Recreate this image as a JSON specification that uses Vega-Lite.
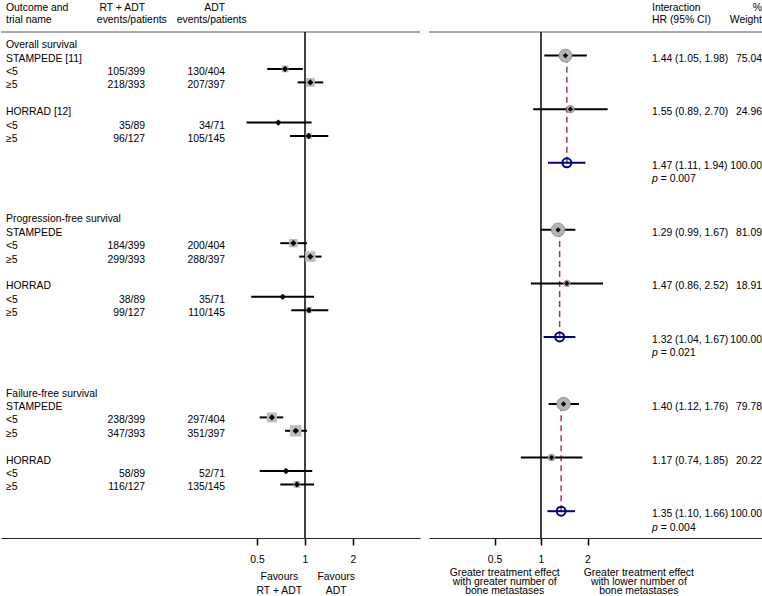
{
  "$schema": "https://vega.github.io/schema/vega-lite/v6.json",
  "padding": 0,
  "autosize": {"type": "pad"},
  "background": "white",
  "config": {
    "view": {"stroke": null},
    "text": {"font": "Liberation Sans", "fontSize": 10.4, "color": "#000"},
    "axis": {"labelFont": "Liberation Sans", "labelFontSize": 10.4, "labelColor": "#000", "grid": false}
  },
  "datasets": {
    "rows": [
      {"row": -2.75, "label": "Outcome and", "rt": "RT + ADT", "adt": "ADT"},
      {"row": 0, "label": "Overall survival"},
      {"row": 1, "label": "STAMPEDE [11]"},
      {"row": 2, "label": "<5", "rt": "105/399", "adt": "130/404", "hr": 0.75, "lo": 0.58, "hi": 0.97, "events": 235},
      {"row": 3, "label": "≥5", "rt": "218/393", "adt": "207/397", "hr": 1.08, "lo": 0.9, "hi": 1.3, "events": 425},
      {"row": 5, "label": "HORRAD [12]"},
      {"row": 6, "label": "<5", "rt": "35/89", "adt": "34/71", "hr": 0.68, "lo": 0.43, "hi": 1.1, "events": 69},
      {"row": 7, "label": "≥5", "rt": "96/127", "adt": "105/145", "hr": 1.055, "lo": 0.805, "hi": 1.4, "events": 201},
      {"row": 13, "label": "Progression-free survival"},
      {"row": 14, "label": "STAMPEDE"},
      {"row": 15, "label": "<5", "rt": "184/399", "adt": "200/404", "hr": 0.845, "lo": 0.7, "hi": 1.03, "events": 384},
      {"row": 16, "label": "≥5", "rt": "299/393", "adt": "288/397", "hr": 1.08, "lo": 0.92, "hi": 1.27, "events": 587},
      {"row": 18, "label": "HORRAD"},
      {"row": 19, "label": "<5", "rt": "38/89", "adt": "35/71", "hr": 0.725, "lo": 0.46, "hi": 1.14, "events": 73},
      {"row": 20, "label": "≥5", "rt": "99/127", "adt": "110/145", "hr": 1.06, "lo": 0.82, "hi": 1.4, "events": 209},
      {"row": 26, "label": "Failure-free survival"},
      {"row": 27, "label": "STAMPEDE"},
      {"row": 28, "label": "<5", "rt": "238/399", "adt": "297/404", "hr": 0.62, "lo": 0.52, "hi": 0.73, "events": 535},
      {"row": 29, "label": "≥5", "rt": "347/393", "adt": "351/397", "hr": 0.875, "lo": 0.75, "hi": 1.03, "events": 698},
      {"row": 31, "label": "HORRAD"},
      {"row": 32, "label": "<5", "rt": "58/89", "adt": "52/71", "hr": 0.76, "lo": 0.52, "hi": 1.11, "events": 110},
      {"row": 33, "label": "≥5", "rt": "116/127", "adt": "135/145", "hr": 0.89, "lo": 0.7, "hi": 1.14, "events": 251}
    ],
    "subheads": [
      {"row": -1.85, "label": "trial name", "rt": "events/patients", "adt": "events/patients"}
    ],
    "inter": [
      {"outcome": "OS", "kind": "study", "row": 1, "hr": 1.44, "lo": 1.05, "hi": 1.98, "weight": 75.04, "est": "1.44 (1.05, 1.98)", "wt": "75.04"},
      {"outcome": "OS", "kind": "study", "row": 5, "hr": 1.55, "lo": 0.89, "hi": 2.7, "weight": 24.96, "est": "1.55 (0.89, 2.70)", "wt": "24.96"},
      {"outcome": "OS", "kind": "pooled", "row": 9, "hr": 1.47, "lo": 1.11, "hi": 1.94, "weight": 100, "est": "1.47 (1.11, 1.94)", "wt": "100.00"},
      {"outcome": "PFS", "kind": "study", "row": 14, "hr": 1.29, "lo": 0.99, "hi": 1.67, "weight": 81.09, "est": "1.29 (0.99, 1.67)", "wt": "81.09"},
      {"outcome": "PFS", "kind": "study", "row": 18, "hr": 1.47, "lo": 0.86, "hi": 2.52, "weight": 18.91, "est": "1.47 (0.86, 2.52)", "wt": "18.91"},
      {"outcome": "PFS", "kind": "pooled", "row": 22, "hr": 1.32, "lo": 1.04, "hi": 1.67, "weight": 100, "est": "1.32 (1.04, 1.67)", "wt": "100.00"},
      {"outcome": "FFS", "kind": "study", "row": 27, "hr": 1.4, "lo": 1.12, "hi": 1.76, "weight": 79.78, "est": "1.40 (1.12, 1.76)", "wt": "79.78"},
      {"outcome": "FFS", "kind": "study", "row": 31, "hr": 1.17, "lo": 0.74, "hi": 1.85, "weight": 20.22, "est": "1.17 (0.74, 1.85)", "wt": "20.22"},
      {"outcome": "FFS", "kind": "pooled", "row": 35, "hr": 1.35, "lo": 1.1, "hi": 1.66, "weight": 100, "est": "1.35 (1.10, 1.66)", "wt": "100.00"}
    ],
    "rheads": [
      {"row": -2.75, "est": "Interaction", "wt": "%"},
      {"row": -1.85, "est": "HR (95% CI)", "wt": "Weight"}
    ],
    "pvals": [
      {"row": 10, "p": "= 0.007"},
      {"row": 23, "p": "= 0.021"},
      {"row": 36, "p": "= 0.004"}
    ]
  },
  "spacing": 7,
  "resolve": {"scale": {"y": "independent", "x": "independent", "size": "independent"}},
  "hconcat": [
    {
      "width": 419,
      "height": 538,
      "resolve": {"scale": {"x": "independent"}, "axis": {"x": "independent"}},
      "layer": [
        {
          "layer": [
            {
              "data": {"values": [{}]},
              "mark": {"type": "rule", "color": "#555", "strokeWidth": 1},
              "encoding": {"y": {"datum": -0.76, "type": "quantitative", "scale": {"domain": [-3.148, 37], "reverse": true, "nice": false, "zero": false}, "axis": null}}
            },
            {
              "data": {"values": [{}]},
              "mark": {"type": "rule", "color": "#000", "strokeWidth": 1.5},
              "encoding": {
                "x": {"datum": 1, "type": "quantitative", "title": null,
                  "scale": {"type": "log", "domain": [0.012402, 5.2628], "nice": false},
                  "axis": {"values": [0.5, 1, 2], "format": "~g", "title": null, "domain": true, "domainColor": "#222", "domainWidth": 1, "ticks": true, "tickSize": 7, "tickWidth": 1.5, "tickColor": "#000", "labelPadding": 9, "labelFlush": false, "labelOverlap": false, "grid": false}},
                "y": {"datum": -0.76, "type": "quantitative", "axis": null},
                "y2": {"datum": 37}
              }
            },
            {
              "data": {"name": "rows"},
              "transform": [{"filter": "isValid(datum.hr)"}],
              "mark": {"type": "rule", "color": "#000", "strokeWidth": 2},
              "encoding": {
                "x": {"field": "lo", "type": "quantitative", "title": null},
                "x2": {"field": "hi"},
                "y": {"field": "row", "type": "quantitative", "axis": null}
              }
            },
            {
              "data": {"name": "rows"},
              "transform": [{"filter": "isValid(datum.hr)"}],
              "mark": {"type": "square", "filled": true, "color": "#bdbdbd", "opacity": 1},
              "encoding": {
                "x": {"field": "hr", "type": "quantitative", "title": null},
                "y": {"field": "row", "type": "quantitative", "axis": null},
                "size": {"field": "events", "type": "quantitative", "scale": {"domain": [0, 700], "range": [0, 130]}, "legend": null}
              }
            },
            {
              "data": {"name": "rows"},
              "transform": [{"filter": "isValid(datum.hr)"}],
              "mark": {"type": "point", "shape": "diamond", "filled": true, "color": "#000", "size": 40, "opacity": 1},
              "encoding": {
                "x": {"field": "hr", "type": "quantitative", "title": null},
                "y": {"field": "row", "type": "quantitative", "axis": null}
              }
            },
            {
              "data": {"values": [{}]},
              "mark": {"type": "text", "align": "center", "baseline": "top", "lineHeight": 14, "dy": 3},
              "encoding": {
                "x": {"datum": 0.69, "type": "quantitative", "title": null},
                "y": {"datum": 39.28, "type": "quantitative", "axis": null},
                "text": {"value": ["Favours", "RT + ADT"]}
              }
            },
            {
              "data": {"values": [{}]},
              "mark": {"type": "text", "align": "center", "baseline": "top", "lineHeight": 14, "dy": 3},
              "encoding": {
                "x": {"datum": 1.57, "type": "quantitative", "title": null},
                "y": {"datum": 39.28, "type": "quantitative", "axis": null},
                "text": {"value": ["Favours", "ADT"]}
              }
            }
          ]
        },
        {
          "layer": [
            {
              "data": {"name": "rows"},
              "mark": {"type": "text", "align": "left", "dy": 3},
              "encoding": {
                "x": {"datum": "label", "type": "nominal", "scale": {"type": "point", "domain": ["label", "rt", "adt"], "range": [5, 224], "padding": 0}, "axis": null},
                "y": {"field": "row", "type": "quantitative", "axis": null},
                "text": {"field": "label"}
              }
            },
            {
              "data": {"name": "rows"},
              "transform": [{"filter": "isValid(datum.rt)"}],
              "mark": {"type": "text", "align": "right", "dx": 29.5, "dy": 3},
              "encoding": {
                "x": {"datum": "rt", "type": "nominal", "axis": null},
                "y": {"field": "row", "type": "quantitative", "axis": null},
                "text": {"field": "rt"}
              }
            },
            {
              "data": {"name": "rows"},
              "transform": [{"filter": "isValid(datum.adt)"}],
              "mark": {"type": "text", "align": "right", "dy": 3},
              "encoding": {
                "x": {"datum": "adt", "type": "nominal", "axis": null},
                "y": {"field": "row", "type": "quantitative", "axis": null},
                "text": {"field": "adt"}
              }
            },
            {
              "data": {"name": "subheads"},
              "mark": {"type": "text", "align": "left", "dy": 3},
              "encoding": {
                "x": {"datum": "label", "type": "nominal", "axis": null},
                "y": {"field": "row", "type": "quantitative", "axis": null},
                "text": {"field": "label"}
              }
            },
            {
              "data": {"name": "subheads"},
              "mark": {"type": "text", "align": "center", "dx": 16.3, "dy": 3},
              "encoding": {
                "x": {"datum": "rt", "type": "nominal", "axis": null},
                "y": {"field": "row", "type": "quantitative", "axis": null},
                "text": {"field": "rt"}
              }
            },
            {
              "data": {"name": "subheads"},
              "mark": {"type": "text", "align": "center", "dx": -13.3, "dy": 3},
              "encoding": {
                "x": {"datum": "adt", "type": "nominal", "axis": null},
                "y": {"field": "row", "type": "quantitative", "axis": null},
                "text": {"field": "adt"}
              }
            }
          ]
        }
      ]
    },
    {
      "width": 336,
      "height": 538,
      "resolve": {"scale": {"x": "independent"}, "axis": {"x": "independent"}},
      "layer": [
        {
          "layer": [
            {
              "data": {"values": [{}]},
              "mark": {"type": "rule", "color": "#555", "strokeWidth": 1},
              "encoding": {"y": {"datum": -0.76, "type": "quantitative", "scale": {"domain": [-3.148, 37], "reverse": true, "nice": false, "zero": false}, "axis": null}}
            },
            {
              "data": {"values": [{}]},
              "mark": {"type": "rule", "color": "#000", "strokeWidth": 1.5},
              "encoding": {
                "x": {"datum": 1, "type": "quantitative", "title": null,
                  "scale": {"type": "log", "domain": [0.18834, 28.19], "nice": false},
                  "axis": {"values": [0.5, 1, 2], "format": "~g", "title": null, "domain": true, "domainColor": "#222", "domainWidth": 1, "ticks": true, "tickSize": 7, "tickWidth": 1.5, "tickColor": "#000", "labelPadding": 9, "labelFlush": false, "labelOverlap": false, "grid": false}},
                "y": {"datum": -0.76, "type": "quantitative", "axis": null},
                "y2": {"datum": 37}
              }
            },
            {
              "data": {"name": "inter"},
              "transform": [
                {"joinaggregate": [{"op": "min", "field": "row", "as": "top"}], "groupby": ["outcome"]},
                {"filter": "datum.kind === 'pooled'"}
              ],
              "mark": {"type": "rule", "color": "#a63a44", "strokeWidth": 1.5, "strokeDash": [6, 4]},
              "encoding": {
                "x": {"field": "hr", "type": "quantitative", "title": null},
                "y": {"field": "row", "type": "quantitative", "axis": null},
                "y2": {"field": "top"}
              }
            },
            {
              "data": {"name": "inter"},
              "transform": [{"filter": "datum.kind === 'study'"}],
              "mark": {"type": "rule", "color": "#000", "strokeWidth": 2},
              "encoding": {
                "x": {"field": "lo", "type": "quantitative", "title": null},
                "x2": {"field": "hi"},
                "y": {"field": "row", "type": "quantitative", "axis": null}
              }
            },
            {
              "data": {"name": "inter"},
              "transform": [{"filter": "datum.kind === 'study'"}],
              "mark": {"type": "point", "shape": "circle", "filled": true, "color": "#b4b4b4", "stroke": "#8a8a8a", "strokeWidth": 0.8, "opacity": 1},
              "encoding": {
                "x": {"field": "hr", "type": "quantitative", "title": null},
                "y": {"field": "row", "type": "quantitative", "axis": null},
                "size": {"field": "weight", "type": "quantitative", "scale": {"domain": [0, 100], "range": [0, 225]}, "legend": null}
              }
            },
            {
              "data": {"name": "inter"},
              "transform": [{"filter": "datum.kind === 'study'"}],
              "mark": {"type": "point", "shape": "diamond", "filled": true, "color": "#000", "size": 28, "opacity": 1},
              "encoding": {
                "x": {"field": "hr", "type": "quantitative", "title": null},
                "y": {"field": "row", "type": "quantitative", "axis": null}
              }
            },
            {
              "data": {"name": "inter"},
              "transform": [{"filter": "datum.kind === 'pooled'"}],
              "mark": {"type": "rule", "color": "#000080", "strokeWidth": 2},
              "encoding": {
                "x": {"field": "lo", "type": "quantitative", "title": null},
                "x2": {"field": "hi"},
                "y": {"field": "row", "type": "quantitative", "axis": null}
              }
            },
            {
              "data": {"name": "inter"},
              "transform": [{"filter": "datum.kind === 'pooled'"}],
              "mark": {"type": "point", "shape": "circle", "filled": false, "color": "#000080", "strokeWidth": 2, "size": 80, "opacity": 1},
              "encoding": {
                "x": {"field": "hr", "type": "quantitative", "title": null},
                "y": {"field": "row", "type": "quantitative", "axis": null}
              }
            },
            {
              "data": {"values": [{}]},
              "mark": {"type": "text", "align": "center", "baseline": "top", "lineHeight": 9.2, "dy": 3},
              "encoding": {
                "x": {"datum": 0.582, "type": "quantitative", "title": null},
                "y": {"datum": 39.0, "type": "quantitative", "axis": null},
                "text": {"value": ["Greater treatment effect", "with greater number of", "bone metastases"]}
              }
            },
            {
              "data": {"values": [{}]},
              "mark": {"type": "text", "align": "center", "baseline": "top", "lineHeight": 9.2, "dy": 3},
              "encoding": {
                "x": {"datum": 4.3, "type": "quantitative", "title": null},
                "y": {"datum": 39.0, "type": "quantitative", "axis": null},
                "text": {"value": ["Greater treatment effect", "with lower  number of", "bone metastases"]}
              }
            }
          ]
        },
        {
          "layer": [
            {
              "data": {"name": "inter"},
              "mark": {"type": "text", "align": "left", "dy": 3},
              "encoding": {
                "x": {"datum": "hr", "type": "nominal", "scale": {"type": "point", "domain": ["hr", "wt"], "range": [223, 333], "padding": 0}, "axis": null},
                "y": {"field": "row", "type": "quantitative", "axis": null},
                "text": {"field": "est"}
              }
            },
            {
              "data": {"name": "inter"},
              "mark": {"type": "text", "align": "right", "dy": 3},
              "encoding": {
                "x": {"datum": "wt", "type": "nominal", "axis": null},
                "y": {"field": "row", "type": "quantitative", "axis": null},
                "text": {"field": "wt"}
              }
            },
            {
              "data": {"name": "rheads"},
              "mark": {"type": "text", "align": "left", "dy": 3},
              "encoding": {
                "x": {"datum": "hr", "type": "nominal", "axis": null},
                "y": {"field": "row", "type": "quantitative", "axis": null},
                "text": {"field": "est"}
              }
            },
            {
              "data": {"name": "rheads"},
              "mark": {"type": "text", "align": "right", "dy": 3},
              "encoding": {
                "x": {"datum": "wt", "type": "nominal", "axis": null},
                "y": {"field": "row", "type": "quantitative", "axis": null},
                "text": {"field": "wt"}
              }
            },
            {
              "data": {"name": "pvals"},
              "mark": {"type": "text", "align": "left", "fontStyle": "italic", "dy": 3},
              "encoding": {
                "x": {"datum": "hr", "type": "nominal", "axis": null},
                "y": {"field": "row", "type": "quantitative", "axis": null},
                "text": {"value": "p"}
              }
            },
            {
              "data": {"name": "pvals"},
              "mark": {"type": "text", "align": "left", "dx": 8.7, "dy": 3},
              "encoding": {
                "x": {"datum": "hr", "type": "nominal", "axis": null},
                "y": {"field": "row", "type": "quantitative", "axis": null},
                "text": {"field": "p"}
              }
            }
          ]
        }
      ]
    }
  ]
}
